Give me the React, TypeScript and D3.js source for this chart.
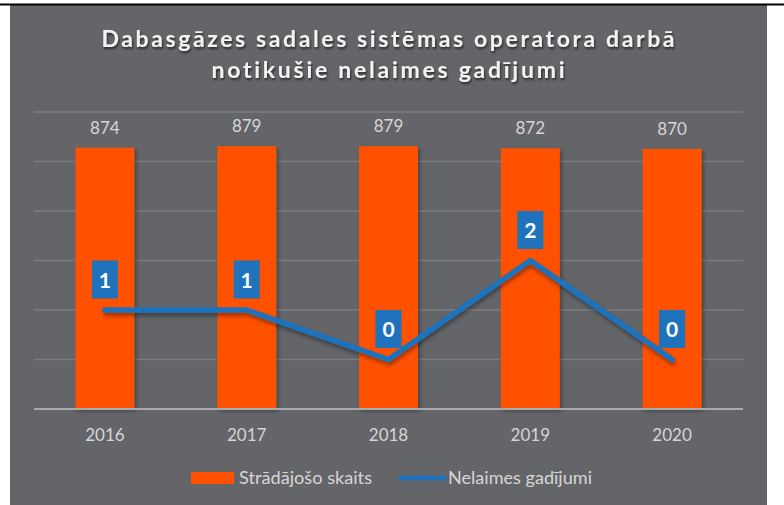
import React from "react";
import * as d3 from "d3";

const years = ["2016", "2017", "2018", "2019", "2020"];
const workers = [874, 879, 879, 872, 870];
const accidents = [1, 1, 0, 2, 0];
const gridTicks = [-1, 0, 1, 2, 3, 4, 5];
const titleLines = ["Dabasgāzes sadales sistēmas operatora darbā", "notikušie nelaimes gadījumi"];
const legendLabels = ["Strādājošo skaits", "Nelaimes gadījumi"];

const W = 784;
const H = 505;
const BG = "#646569";
const ORANGE = "#ff5100";
const BLUE = "#1f73bd";
const TXT = "#d6d6d6";
const FONT = "Lato, 'Open Sans', sans-serif";

export default function App() {
  const left = 34, right = 743, top = 112, bottom = 409;
  const x = d3.scaleBand<string>().domain(years).range([left, right]).paddingInner(0.584).paddingOuter(0.292);
  const yBar = d3.scaleLinear().domain([0, 1000]).range([bottom, 110]);
  const yLine = d3.scaleLinear().domain([-1, 5]).range([bottom, top]);
  const cx = (y: string) => (x(y) as number) + x.bandwidth() / 2;
  const line = d3.line<number>().x((_, i) => cx(years[i])).y((d) => yLine(d));

  return (
    <svg width={W} height={H} style={{ position: "absolute", left: 0, top: 0, fontVariantLigatures: "none" }} fontFamily={FONT}>
      <defs>
        <filter id="shBar" x="-20%" y="-20%" width="140%" height="140%">
          <feDropShadow dx="2" dy="2" stdDeviation="2" floodColor="#000" floodOpacity="0.35" />
        </filter>
        <filter id="shLine" x="-10%" y="-30%" width="120%" height="160%">
          <feDropShadow dx="1" dy="3" stdDeviation="2" floodColor="#000" floodOpacity="0.4" />
        </filter>
        <filter id="shTitle" x="-5%" y="-30%" width="110%" height="160%">
          <feDropShadow dx="1" dy="2" stdDeviation="1.2" floodColor="#000" floodOpacity="0.6" />
        </filter>
      </defs>
      <rect x={0} y={0} width={W} height={H} fill="#fff" />
      <rect x={10} y={5} width={757} height={500} fill={BG} />
      <line x1={0} x2={W} y1={4.5} y2={4.5} stroke="#000" strokeWidth={2} />

      {/* title */}
      <g filter="url(#shTitle)" fill="#f2f2f2" fontWeight="bold" fontSize={23} textAnchor="middle">
        <text x={388} y={47} textLength={573} lengthAdjust="spacing">{titleLines[0]}</text>
        <text x={388} y={78} textLength={353} lengthAdjust="spacing">{titleLines[1]}</text>
      </g>

      {/* gridlines */}
      {gridTicks.slice(1).map((t) => (
        <line key={t} x1={left} x2={right} y1={yLine(t)} y2={yLine(t)} stroke="#7b7c80" strokeWidth={1.3} />
      ))}

      {/* bars */}
      <g filter="url(#shBar)">
        {years.map((yr, i) => (
          <rect key={yr} x={x(yr)} y={yBar(workers[i])} width={x.bandwidth()} height={bottom - yBar(workers[i])} fill={ORANGE} />
        ))}
      </g>
      <line x1={left} x2={right} y1={bottom} y2={bottom} stroke="#a9aaad" strokeWidth={2} />

      {/* bar labels */}
      {years.map((yr, i) => (
        <text key={yr} x={cx(yr)} y={yBar(workers[i]) - 14} fill={TXT} fontSize={17} textAnchor="middle">{workers[i]}</text>
      ))}

      {/* x labels */}
      {years.map((yr) => (
        <text key={yr} x={cx(yr)} y={441} fill={TXT} fontSize={17} textAnchor="middle">{yr}</text>
      ))}

      {/* line */}
      <path d={line(accidents) as string} fill="none" stroke={BLUE} strokeWidth={5.5} strokeLinecap="round" strokeLinejoin="round" filter="url(#shLine)" />

      {/* line labels */}
      {years.map((yr, i) => {
        const py = yLine(accidents[i]);
        return (
          <g key={yr}>
            <rect x={cx(yr) - 13} y={py - 11.5 - 38} width={26} height={38} fill={BLUE} />
            <text x={cx(yr)} y={py - 11.5 - 11} fill="#fff" fontWeight="bold" fontSize={21} textAnchor="middle">{accidents[i]}</text>
          </g>
        );
      })}

      {/* legend */}
      <rect x={191} y={472} width={43} height={12} fill={ORANGE} />
      <text x={239} y={484} fill={TXT} fontSize={17.5} textLength={133} lengthAdjust="spacingAndGlyphs">{legendLabels[0]}</text>
      <line x1={401} x2={444} y1={478} y2={478} stroke={BLUE} strokeWidth={5} strokeLinecap="round" />
      <text x={448} y={484} fill={TXT} fontSize={17.5} textLength={144} lengthAdjust="spacingAndGlyphs">{legendLabels[1]}</text>
    </svg>
  );
}
